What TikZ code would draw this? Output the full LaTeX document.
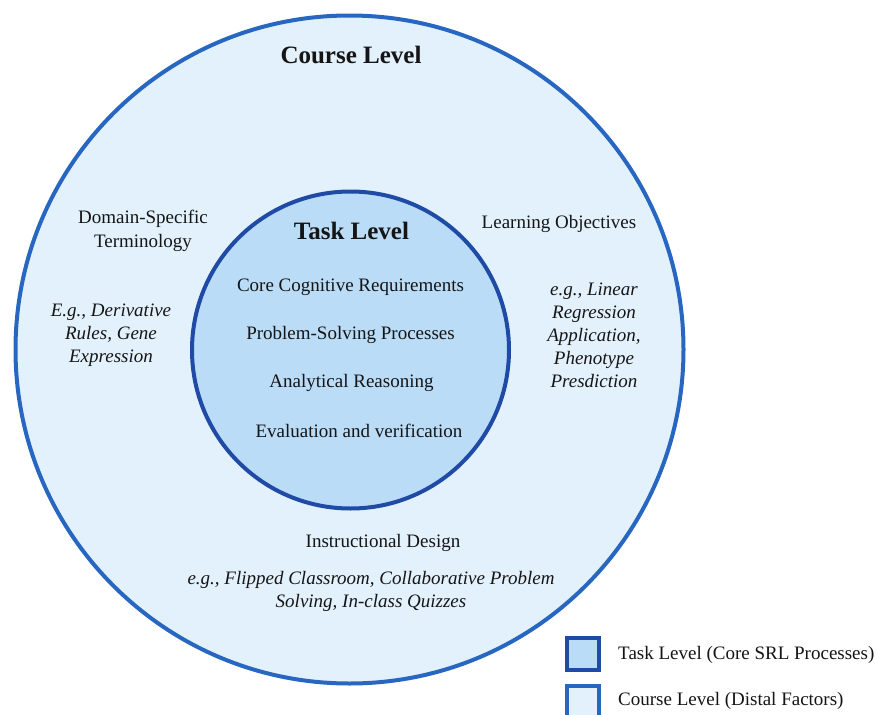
\documentclass[tikz,border=0pt]{standalone}
\usepackage{fontspec}
\setmainfont{Liberation Serif}
\definecolor{outerfill}{HTML}{E3F1FC}
\definecolor{innerfill}{HTML}{BBDCF7}
\definecolor{outerline}{HTML}{2767C1}
\definecolor{innerline}{HTML}{1F4AA5}
\definecolor{ink}{HTML}{151515}
\begin{document}
\begin{tikzpicture}[x=1pt,y=-1pt,
  lbl/.style={text=ink,inner sep=0pt,align=center,font=\fontsize{19}{23.5}\selectfont},
  ital/.style={lbl,font=\fontsize{19}{23}\selectfont\itshape},
  head/.style={text=ink,inner sep=0pt,font=\fontsize{25}{30}\selectfont\bfseries},
  outerring/.style={draw=outerline,fill=outerfill,line width=4pt},
  innerring/.style={draw=innerline,fill=innerfill,line width=4pt},
  keybox/.style={minimum size=32pt,inner sep=0pt}]
\clip (0,0) rectangle (876,715);
\fill[white] (0,0) rectangle (876,715);

% nested levels
\node[outerring,circle,minimum size=668pt,inner sep=0pt] (course) at (349.5,349.5) {};
\node[innerring,circle,minimum size=317pt,inner sep=0pt] (task) at (350.5,350) {};

% course level contents
\node[head] (coursetitle) at (351,55) {Course Level};
\node[lbl] (domain) at (143,231) {Domain-Specific\\Terminology};
\node[ital] (domainex) at (111,335) {E.g., Derivative\\Rules, Gene\\Expression};
\node[lbl] (objectives) at (559,224) {Learning Objectives};
\node[ital] (objectivesex) at (594,335) {e.g., Linear\\Regression\\Application,\\Phenotype\\Presdiction};
\node[lbl] (design) at (383,543) {Instructional Design};
\node[ital] (designex) at (371,591.5) {e.g., Flipped Classroom, Collaborative Problem\\Solving, In-class Quizzes};

% task level contents
\node[head] (tasktitle) at (351.5,231) {Task Level};
\node[lbl] (req) at (350.5,287) {Core Cognitive Requirements};
\node[lbl] (proc) at (350.5,335) {Problem-Solving Processes};
\node[lbl] (reason) at (351.5,383) {Analytical Reasoning};
\node[lbl] (verify) at (359,431) {Evaluation and verification};

% legend
\node[innerring,keybox,line width=3.5pt] (keytask) at (583,654) {};
\node[lbl,anchor=west] (keytasklbl) at (618,655) {Task Level (Core SRL Processes)};
\node[outerring,keybox,line width=3.5pt] (keycourse) at (583,702) {};
\node[lbl,anchor=west] (keycourselbl) at (618,701) {Course Level (Distal Factors)};
\end{tikzpicture}
\end{document}
